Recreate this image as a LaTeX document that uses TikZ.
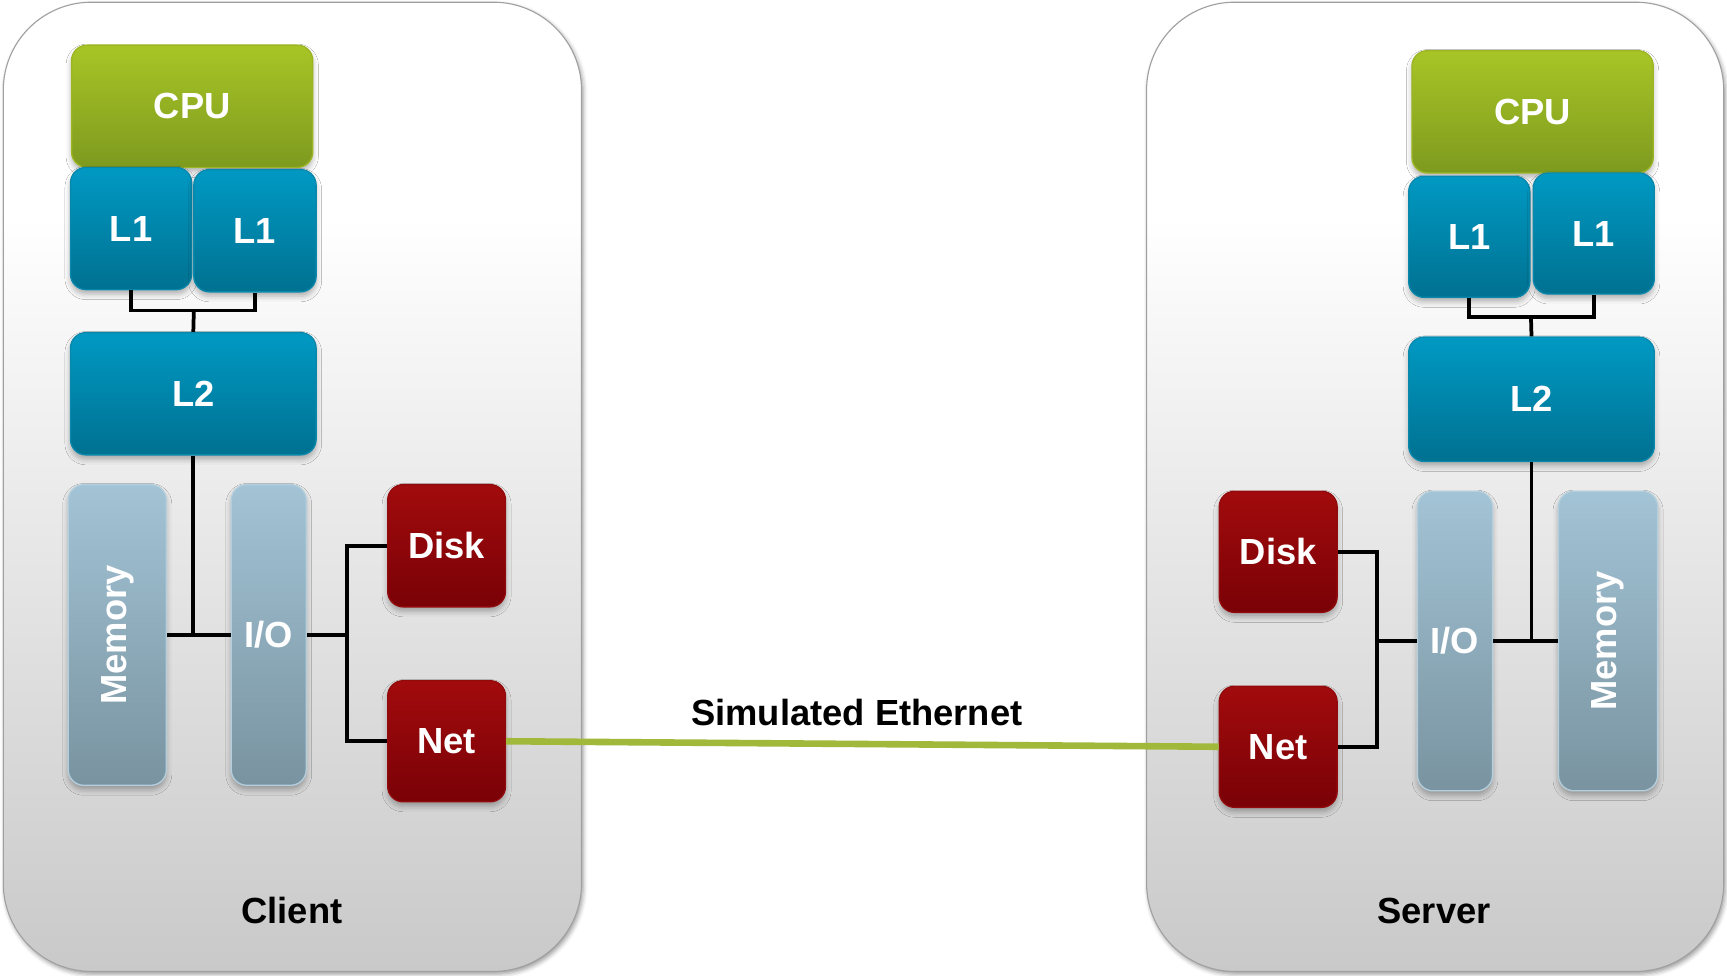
\documentclass[tikz,border=0pt]{standalone}
\usepackage{fontspec}
\setmainfont{Liberation Sans}
\usetikzlibrary{shadows.blur,calc}

\definecolor{cpuTop}{HTML}{A8C526}
\definecolor{cpuBot}{HTML}{7E9A1F}
\definecolor{cpuEdge}{HTML}{9BB523}
\definecolor{cacheTop}{HTML}{0099C3}
\definecolor{cacheBot}{HTML}{007191}
\definecolor{cacheEdge}{HTML}{0A88AC}
\definecolor{busTop}{HTML}{A3C4D6}
\definecolor{busBot}{HTML}{7993A0}
\definecolor{busEdge}{HTML}{B3CEDC}
\definecolor{devTop}{HTML}{A20B0D}
\definecolor{devBot}{HTML}{790106}
\definecolor{devEdge}{HTML}{920A0C}
\definecolor{panelBot}{HTML}{C9C9C9}
\definecolor{panelMid}{HTML}{EBEBEB}
\definecolor{panelEdge}{HTML}{A0A0A0}
\definecolor{ether}{HTML}{A0B93B}

\pgfdeclareverticalshading{panelshade}{100bp}{color(0bp)=(panelBot); color(25bp)=(panelBot); color(50bp)=(panelMid); color(64bp)=(white); color(75bp)=(white); color(100bp)=(white)}

\tikzset{
  panel/.style={rounded corners=80pt, draw=panelEdge, line width=1pt, shading=panelshade,
    blur shadow={shadow xshift=1.5pt, shadow yshift=-2.5pt, shadow opacity=40, shadow blur radius=4pt}},
  box/.style={rounded corners=14pt, inner sep=0pt, line width=1.2pt, text=white,
    font=\fontsize{33}{36}\selectfont\bfseries,
    blur shadow={shadow xshift=0pt, shadow yshift=-4pt, shadow opacity=30, shadow blur radius=5pt}},
  cpubox/.style={box, draw=cpuEdge, top color=cpuTop, bottom color=cpuBot},
  cachebox/.style={box, draw=cacheEdge, top color=cacheTop, bottom color=cacheBot},
  busbox/.style={box, draw=busEdge, top color=busTop, bottom color=busBot},
  devbox/.style={box, draw=devEdge, top color=devTop, bottom color=devBot},
  sz/.style n args={2}{minimum width=#1pt, minimum height=#2pt},
  wire/.style={line width=3.4pt, black},
  etherline/.style={line width=6pt, ether},
  caption/.style={font=\fontsize{33}{36}\selectfont\bfseries, text=black, inner sep=0pt}
}

\begin{document}
\begin{tikzpicture}[x=1pt, y=-1pt]
\useasboundingbox (0,0) rectangle (1568,886);

% machine enclosures
\path[panel] (3,2) rectangle (528,882);
\path[panel] (1041,2) rectangle (1565,882);

% ---------------- client ----------------
\node[cpubox, sz={219}{111}] (ccpu) at (174.5,96.5) {CPU};
\node[cachebox, sz={110}{111}] (cl1a) at (119,207.5) {L1};
\node[cachebox, sz={111}{111}] (cl1b) at (231.5,209.5) {L1};
\node[cachebox, sz={223}{111}] (cl2) at (175.5,357.5) {L2};
\node[busbox, sz={89}{273}] (cmem) at (106.5,576.5) {\rotatebox{90}{Memory}};
\node[busbox, sz={68}{273}] (cio) at (244,576.5) {I/O};
\node[devbox, sz={107}{111}] (cdisk) at (405.5,495.5) {Disk};
\node[devbox, sz={107}{110}] (cnet) at (405.5,673) {Net};
\coordinate (cj) at (176,282);
\coordinate (cbus) at (315,576.5);

\draw[wire] (cl1a.south) |- (cj) -| (cl1b.south);
\draw[wire] (cj) -- (cl2.north);
\draw[wire] (cmem.east) -- (cio.west);
\draw[wire] (cl2.south) -- (cl2.south |- cmem.east);
\draw[wire] (cio.east) -- (cbus);
\draw[wire] (cdisk.west) -| (cbus) |- (cnet.west);

\node[caption] (clabel) at (265,827) {Client};

% ---------------- server ----------------
\node[cpubox, sz={219}{111}] (scpu) at (1391.5,101.5) {CPU};
\node[cachebox, sz={110}{110}] (sl1a) at (1334,215) {L1};
\node[cachebox, sz={110}{110}] (sl1b) at (1447,212) {L1};
\node[cachebox, sz={223}{113}] (sl2) at (1390.5,362.5) {L2};
\node[devbox, sz={107}{110}] (sdisk) at (1160.5,501) {Disk};
\node[devbox, sz={107}{110}] (snet) at (1160.5,678) {Net};
\node[busbox, sz={68}{272}] (sio) at (1321,582) {I/O};
\node[busbox, sz={90}{272}] (smem) at (1460,582) {\rotatebox{90}{Memory}};
\coordinate (sj) at (1390,288);
\coordinate (sbus) at (1250,582);

\draw[wire] (sl1a.south) |- (sj) -| (sl1b.south);
\draw[wire] (sj) -- (sl2.north);
\draw[wire] (sio.east) -- (smem.west);
\draw[wire] (sl2.south) -- (sl2.south |- sio.east);
\draw[wire] (sbus) -- (sio.west);
\draw[wire] (sdisk.east) -| (sbus) |- (snet.east);

\node[caption] (slabel) at (1302,827) {Server};

% ---------------- network link ----------------
\draw[etherline] (cnet.east) -- (snet.west);
\node[caption] (elabel) at (778,647) {Simulated Ethernet};
\end{tikzpicture}
\end{document}
